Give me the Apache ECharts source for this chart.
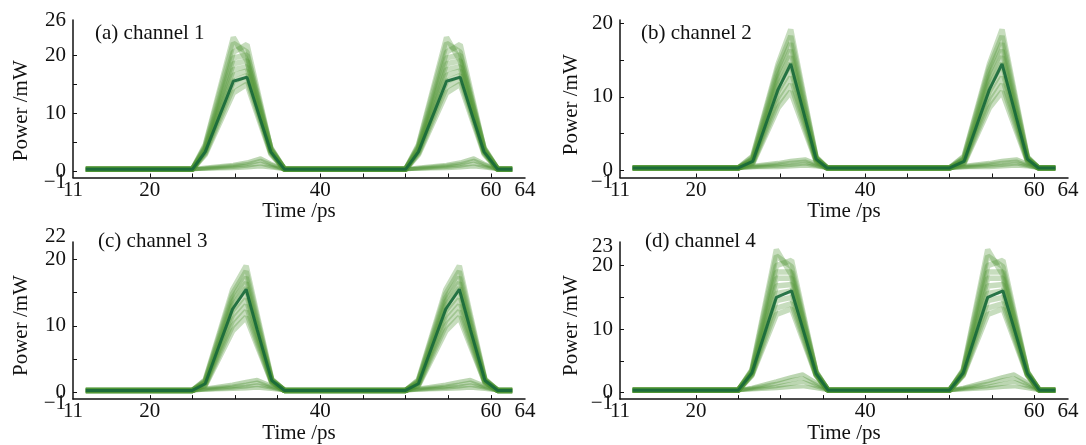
<!DOCTYPE html>
<html>
<head>
<meta charset="utf-8">
<script src="https://cdn.jsdelivr.net/npm/echarts@6/dist/echarts.min.js"></script>
<style>
  html, body { margin: 0; padding: 0; background: #fff; }
  #chart { width: 1086px; height: 445px; }
</style>
</head>
<body>
<div id="chart"></div>
<script>
// sample times (ps) of the traces, two bit slots per panel
var timeA = [12.5, 25, 26.5, 29.8, 31.4, 33, 34.2, 35.8, 50, 51.5, 54.8, 56.4, 58, 59.2, 60.8, 62.5];
var timeB = [12.5, 25, 26.7, 29.7, 31.2, 32.9, 34.2, 35.5, 50, 51.7, 54.7, 56.2, 57.9, 59.2, 60.5, 62.5];
var timeC = [12.5, 25, 26.5, 29.7, 31.3, 32.6, 34.3, 35.8, 50, 51.5, 54.7, 56.3, 57.6, 59.3, 60.8, 62.5];
var timeD = [12.5, 25, 26.6, 29.5, 31.3, 32.6, 34.2, 35.6, 50, 51.6, 54.5, 56.3, 57.6, 59.2, 60.6, 62.5];

// power (mW) of one bit slot, "1" bits
var onesA = [
  [0.4, 4.6, 23.0, 19.0, 10.5, 4.1, 0.4],
  [0.4, 4.4, 22.0, 20.5, 11.1, 4.0, 0.4],
  [0.4, 4.2, 20.5, 21.8, 11.6, 3.9, 0.4],
  [0.4, 4.0, 19.5, 20.0, 10.7, 3.8, 0.4],
  [0.4, 3.9, 18.5, 19.0, 10.3, 3.7, 0.4],
  [0.4, 3.7, 17.5, 18.0, 9.8, 3.6, 0.4],
  [0.4, 3.5, 16.5, 17.3, 9.4, 3.5, 0.4],
  [0.4, 3.3, 15.5, 16.5, 9.0, 3.3, 0.4],
  [0.4, 3.1, 14.5, 15.8, 8.6, 3.2, 0.4],
  [0.4, 2.9, 13.5, 15.0, 8.1, 3.0, 0.4]
];
var onesB = [
  [0.3, 1.9, 14.5, 19.2, 9.3, 1.8, 0.3],
  [0.3, 1.8, 14.0, 18.3, 8.9, 1.7, 0.3],
  [0.3, 1.6, 13.5, 17.3, 8.5, 1.7, 0.3],
  [0.3, 1.5, 12.8, 16.4, 8.0, 1.6, 0.3],
  [0.3, 1.4, 12.2, 15.5, 7.6, 1.6, 0.3],
  [0.3, 1.3, 11.5, 14.6, 7.2, 1.5, 0.3],
  [0.3, 1.2, 10.8, 13.7, 6.8, 1.5, 0.3],
  [0.3, 1.1, 10.0, 12.7, 6.3, 1.4, 0.3],
  [0.3, 1.0, 9.2, 11.7, 5.8, 1.3, 0.3],
  [0.3, 0.9, 8.5, 10.7, 5.3, 1.2, 0.3]
];
var onesC = [
  [0.3, 1.9, 15.4, 19.0, 11.6, 2.0, 0.3],
  [0.3, 1.8, 14.8, 18.2, 11.1, 1.9, 0.3],
  [0.3, 1.7, 14.2, 17.3, 10.6, 1.9, 0.3],
  [0.3, 1.6, 13.6, 16.5, 10.1, 1.8, 0.3],
  [0.3, 1.5, 13.0, 15.7, 9.6, 1.8, 0.3],
  [0.3, 1.4, 12.3, 14.9, 9.1, 1.7, 0.3],
  [0.3, 1.3, 11.6, 14.0, 8.6, 1.7, 0.3],
  [0.3, 1.2, 10.8, 13.1, 8.0, 1.6, 0.3],
  [0.3, 1.1, 10.0, 12.2, 7.5, 1.5, 0.3],
  [0.3, 1.0, 9.2, 11.3, 7.0, 1.5, 0.3]
];
var onesD = [
  [0.4, 3.6, 22.5, 18.5, 11.7, 3.3, 0.4],
  [0.4, 3.5, 21.5, 19.8, 12.4, 3.2, 0.4],
  [0.4, 3.4, 20.0, 20.8, 12.9, 3.2, 0.4],
  [0.4, 3.3, 19.0, 19.0, 11.9, 3.1, 0.4],
  [0.4, 3.2, 18.0, 18.0, 11.3, 3.0, 0.4],
  [0.4, 3.1, 16.8, 17.0, 10.7, 3.0, 0.4],
  [0.4, 3.0, 15.6, 16.0, 10.1, 2.9, 0.4],
  [0.4, 2.9, 14.5, 15.0, 9.5, 2.8, 0.4],
  [0.4, 2.8, 13.3, 14.0, 9.0, 2.8, 0.4],
  [0.4, 2.7, 12.3, 13.2, 8.5, 2.7, 0.4]
];

// "0" bits (small hump under the pulse)
var zerosA = [
  [0.4, 0.7, 1.2, 1.6, 2.3, 1.4, 0.4],
  [0.4, 0.6, 1.0, 1.3, 1.9, 1.2, 0.4],
  [0.4, 0.5, 0.8, 1.0, 1.4, 0.9, 0.4],
  [0.4, 0.5, 0.6, 0.7, 0.9, 0.7, 0.4]
];
var zerosB = [
  [0.3, 0.6, 1.0, 1.3, 1.5, 0.9, 0.3],
  [0.3, 0.5, 0.8, 1.0, 1.2, 0.7, 0.3],
  [0.3, 0.4, 0.6, 0.7, 0.9, 0.6, 0.3],
  [0.3, 0.4, 0.4, 0.5, 0.6, 0.5, 0.3]
];
var zerosC = [
  [0.3, 0.6, 1.2, 1.6, 1.9, 1.0, 0.3],
  [0.3, 0.5, 0.9, 1.2, 1.5, 0.8, 0.3],
  [0.3, 0.4, 0.7, 0.9, 1.1, 0.7, 0.3],
  [0.3, 0.4, 0.5, 0.6, 0.7, 0.5, 0.3]
];
var zerosD = [
  [0.4, 0.8, 1.8, 2.5, 2.9, 1.6, 0.4],
  [0.4, 0.7, 1.4, 2.0, 2.3, 1.3, 0.4],
  [0.4, 0.6, 1.0, 1.4, 1.7, 1.0, 0.4],
  [0.4, 0.5, 0.7, 0.9, 1.0, 0.7, 0.4]
];

// densest trace of each panel
var coreA = [0.4, 3.4, 15.5, 16.2, 8.8, 3.4, 0.4];
var coreB = [0.3, 1.2, 11.0, 14.5, 7.1, 1.5, 0.3];
var coreC = [0.3, 1.3, 12.5, 15.5, 9.4, 1.8, 0.3];
var coreD = [0.4, 3.1, 15.0, 16.0, 10.2, 3.0, 0.4];

var titles = ['(a) channel 1', '(b) channel 2', '(c) channel 3', '(d) channel 4'];
var xLabels = [11, 20, 40, 60, 64];
var xTicks = [20, 25, 30, 35, 40, 45, 50, 55, 60];
var yMax = [26, 20.5, 22.6, 23.7];
// listed so that crowded neighbours (-1/0, 20/top) are not first/last pairs,
// which ECharts would thin out
var yLabels = [
  [26, 0, -1, 20, 10],
  [0, 10, -1, 20],
  [22, 0, -1, 20, 10],
  [23, 0, -1, 20, 10]
];
var yTicks = [0, 5, 10, 15, 20];

var panels = [
  { time: timeA, ones: onesA, zeros: zerosA, core: coreA },
  { time: timeB, ones: onesB, zeros: zerosB, core: coreB },
  { time: timeC, ones: onesC, zeros: zerosC, core: coreC },
  { time: timeD, ones: onesD, zeros: zerosD, core: coreD }
];

var font = 'Liberation Serif';
var ink = '#111';
var fs = 21;

// grid boxes, pixels
var boxes = [
  { left: 73, right: 561, top: 20, bottom: 267.5 },
  { left: 620, right: 18, top: 20, bottom: 267.5 },
  { left: 73, right: 561, top: 242, bottom: 45 },
  { left: 620, right: 18, top: 242, bottom: 45 }
];
var nameGapY = [41, 38, 41, 38];
var nameShift = [24, 12, 10, 10];
var titlePos = [[95, 23], [641, 23], [98, 231], [645, 231]];

function trace(time, slot) {
  var ys = [slot[0]].concat(slot, slot, [slot[slot.length - 1]]);
  return time.map(function (t, i) { return [t, ys[i]]; });
}

function line(p, data, color, width) {
  return {
    type: 'line',
    xAxisIndex: p,
    yAxisIndex: p,
    data: data,
    showSymbol: false,
    silent: true,
    animation: false,
    lineStyle: { color: color, width: width }
  };
}

var series = [];
panels.forEach(function (pn, p) {
  pn.ones.forEach(function (s) {
    series.push(line(p, trace(pn.time, s), 'rgba(80,148,52,0.32)', 5.5));
  });
  pn.zeros.forEach(function (s) {
    series.push(line(p, trace(pn.time, s), 'rgba(80,148,52,0.38)', 4));
  });
  series.push(line(p, trace(pn.time, pn.core), 'rgba(22,104,58,0.9)', 3));
});

var labelRich = {
  lo: { fontFamily: font, fontSize: fs, color: ink, padding: [9, 0, 0, 0] },
  hi: { fontFamily: font, fontSize: fs, color: ink, padding: [0, 0, 20, 0] }
};

var option = {
  backgroundColor: '#fff',
  title: titles.map(function (t, i) {
    return {
      text: t, left: titlePos[i][0], top: titlePos[i][1], padding: 0,
      textStyle: { fontFamily: font, fontSize: fs, fontWeight: 'normal', color: ink }
    };
  }),
  grid: boxes,
  xAxis: boxes.map(function (b, i) {
    return {
      type: 'value', gridIndex: i, min: 11, max: 64,
      name: 'Time /ps', nameLocation: 'middle', nameGap: i < 2 ? 22 : 20,
      nameTextStyle: { fontFamily: font, fontSize: fs, color: ink },
      axisLine: { onZero: false, lineStyle: { color: ink, width: 1.5 } },
      axisTick: { inside: true, length: 4, customValues: xTicks, lineStyle: { color: ink } },
      axisLabel: {
        customValues: xLabels, margin: 2, fontFamily: font, fontSize: fs, color: ink,
        showMinLabel: true, showMaxLabel: true, hideOverlap: false
      },
      splitLine: { show: false }
    };
  }),
  yAxis: boxes.map(function (b, i) {
    return {
      type: 'value', gridIndex: i, min: -1, max: yMax[i],
      name: 'Power /mW', nameLocation: 'middle', nameGap: nameGapY[i],
      nameTextStyle: { fontFamily: font, fontSize: fs, color: ink, padding: [0, nameShift[i], 0, 0] },
      axisLine: { lineStyle: { color: ink, width: 1.5 } },
      axisTick: { inside: true, length: 4, customValues: yTicks, lineStyle: { color: ink } },
      axisLabel: {
        customValues: yLabels[i], margin: 7, fontFamily: font, fontSize: fs, color: ink,
        showMinLabel: true, showMaxLabel: true, hideOverlap: false,
        rich: labelRich,
        formatter: function (v) {
          if (v === -1) return '{lo|\u22121}';
          if (i === 2 && v === 22) return '{hi|22}';
          return String(v);
        }
      },
      splitLine: { show: false }
    };
  }),
  series: series
};

var chart = echarts.init(document.getElementById('chart'));
chart.setOption(option);
</script>
</body>
</html>
